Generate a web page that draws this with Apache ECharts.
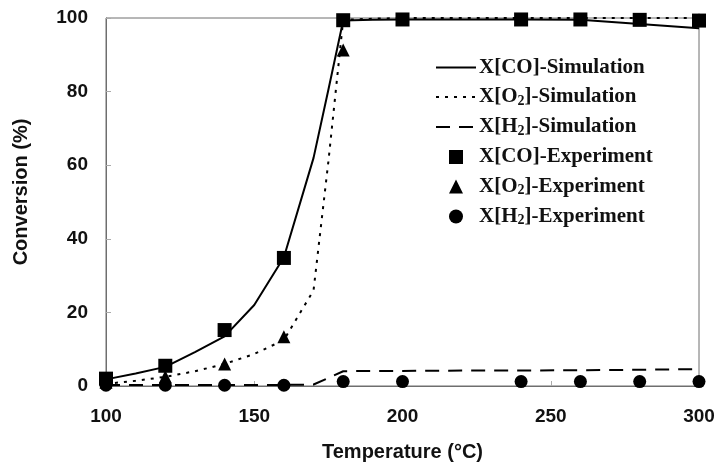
<!DOCTYPE html>
<html>
<head>
<meta charset="utf-8">
<script src="https://cdn.jsdelivr.net/npm/echarts@6/dist/echarts.min.js"></script>
<style>
  html, body { margin: 0; padding: 0; background: #fff; }
  #chart { width: 716px; height: 463px; }
</style>
</head>
<body>
<div id="chart"></div>
<script>
// Temperatures of the simulated profiles (°C)
const simTemp = [100, 110, 120, 130, 140, 150, 160, 170, 175, 180, 190, 200, 220, 240, 260, 280, 300];
// Simulated conversions (%)
const simCO = [1.8, 3.4, 5.2, 9.2, 13.5, 22, 35, 62, 80.5, 99.3, 99.5, 99.6, 99.6, 99.6, 99.5, 98.4, 97.2];
const simO2 = [0.6, 1.4, 2.5, 4.0, 6.0, 8.7, 12.5, 26, 61, 99.5, 99.8, 100, 100, 100, 100, 100, 100];
const simH2 = [0.3, 0.3, 0.3, 0.3, 0.3, 0.3, 0.3, 0.4, 2.2, 4.0, 4.1, 4.1, 4.2, 4.2, 4.3, 4.4, 4.6];

// Measured points
const expTemp = [100, 120, 140, 160, 180, 200, 240, 260, 280, 300];
const expCO = [2.0, 5.5, 15.2, 34.8, 99.4, 99.6, 99.6, 99.6, 99.5, 99.3];
const expO2 = [1.0, 2.5, 6.0, 13.4, 91.3, 99.6, 99.6, 99.6, 99.6, 99.5];
const expH2 = [0.2, 0.2, 0.2, 0.2, 1.2, 1.2, 1.2, 1.2, 1.2, 1.2];

// Axis ticks
const xTicks = { min: 100, max: 300, step: 50 };
const yTicks = { min: 0, max: 100, step: 20 };

const pairs = (xs, ys) => xs.map((x, i) => [x, ys[i]]);

const axisFont = { fontFamily: 'Liberation Sans', fontWeight: 'bold', fontSize: 19, color: '#111' };
const axisGray = '#6e6e6e';

// Marker shapes that keep their proportions in the legend
const squarePath = 'path://M0,0L10,0L10,10L0,10Z';
const trianglePath = 'path://M5,0L10,10L0,10Z';

function simSeries(name, ys, type) {
  return {
    name, type: 'line', data: pairs(simTemp, ys),
    symbol: 'none', showSymbol: false, z: 2,
    itemStyle: { color: '#000' },
    lineStyle: { color: '#000', width: 2, type }
  };
}
function expSeries(name, ys, symbol, size, z) {
  return {
    name, type: 'scatter', data: pairs(expTemp, ys),
    symbol, symbolSize: size, z,
    itemStyle: { color: '#000', opacity: 1 }
  };
}

const chart = echarts.init(document.getElementById('chart'), null, { renderer: 'canvas' });

const hiddenDot = { opacity: 0 };

chart.setOption({
  animation: false,
  backgroundColor: '#fff',
  grid: {
    left: 106, right: 17, top: 18, bottom: 77,
    outerBoundsMode: 'none', containLabel: false,
    show: true, borderColor: axisGray, borderWidth: 1
  },
  xAxis: {
    type: 'value', min: xTicks.min, max: xTicks.max, interval: xTicks.step,
    name: 'Temperature (°C)', nameLocation: 'middle', nameGap: 56,
    nameTextStyle: Object.assign({}, axisFont, { fontSize: 20 }),
    axisLine: { lineStyle: { color: axisGray, width: 1 } },
    axisTick: { inside: true, length: 5, lineStyle: { color: '#aaa' } },
    axisLabel: Object.assign({ margin: 21 }, axisFont),
    splitLine: { show: false }
  },
  yAxis: {
    type: 'value', min: yTicks.min, max: yTicks.max, interval: yTicks.step,
    name: 'Conversion (%)', nameLocation: 'middle', nameGap: 75,
    nameTextStyle: Object.assign({}, axisFont, { fontSize: 20, padding: [0, 0, 0, 20] }),
    axisLine: { lineStyle: { color: axisGray, width: 1 } },
    axisTick: { inside: true, length: 5, lineStyle: { color: '#aaa' } },
    axisLabel: Object.assign({ margin: 18 }, axisFont),
    splitLine: { show: false }
  },
  legend: {
    orient: 'vertical', left: 430, top: 52,
    itemWidth: 40, itemHeight: 14, itemGap: 8.5,
    symbolKeepAspect: true,
    data: [
      { name: 'X[CO]-Simulation', itemStyle: hiddenDot },
      { name: 'X[O2]-Simulation', itemStyle: hiddenDot },
      { name: 'X[H2]-Simulation', itemStyle: hiddenDot },
      { name: 'X[CO]-Experiment', icon: squarePath },
      { name: 'X[O2]-Experiment', icon: trianglePath },
      { name: 'X[H2]-Experiment', icon: 'circle' }
    ],
    formatter: (n) => n.replace('2', '{s|2}'),
    textStyle: {
      fontFamily: 'Liberation Serif', fontWeight: 'bold', fontSize: 21, color: '#111', padding: [0, 0, 0, -2],
      rich: { s: { fontFamily: 'Liberation Serif', fontWeight: 'bold', fontSize: 14, color: '#111', verticalAlign: 'bottom', padding: [8, 0, 0, 0] } }
    }
  },
  series: [
    simSeries('X[CO]-Simulation', simCO, 'solid'),
    simSeries('X[O2]-Simulation', simO2, [3, 6]),
    simSeries('X[H2]-Simulation', simH2, [14, 9]),
    expSeries('X[O2]-Experiment', expO2, 'triangle', 13, 3),
    expSeries('X[H2]-Experiment', expH2, 'circle', 13, 4),
    expSeries('X[CO]-Experiment', expCO, 'rect', 14, 5)
  ]
});
</script>
</body>
</html>
